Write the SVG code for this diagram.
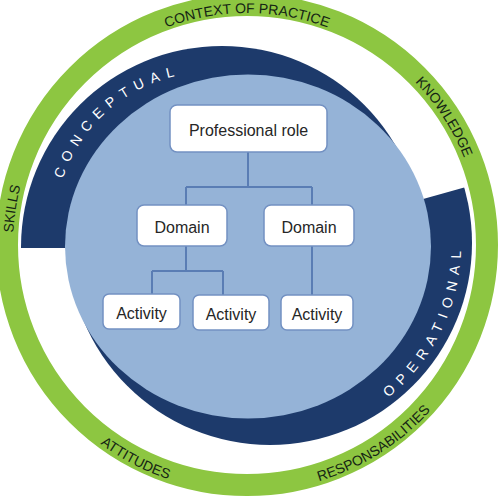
<svg xmlns="http://www.w3.org/2000/svg" width="499" height="499" viewBox="0 0 499 499">
<style>
.ring{font-family:"Liberation Sans",Arial,sans-serif;font-size:14px;fill:#142414}
.band{font-family:"Liberation Sans",Arial,sans-serif;font-size:14px;fill:#ffffff;letter-spacing:7px}
.box{fill:#ffffff;stroke:#7391c2;stroke-width:1.5}
.lbl{font-family:"Liberation Sans",Arial,sans-serif;font-size:16px;fill:#262626;text-anchor:middle}
.con{fill:none;stroke:#5a7db4;stroke-width:2}
</style>
<defs>
<clipPath id="c1"><rect x="-10" y="-10" width="520" height="258"/></clipPath>
<clipPath id="c2"><polygon points="-10,320.2 510,174.6 510,510 -10,510"/></clipPath>
<path id="pContext" d="M46.1,129 A232,232 0 0 1 447.9,129"/>
<path id="pKnow" d="M234.8,11.3 A234,234 0 0 1 455.5,351.2"/>
<path id="pSkills" d="M100.4,427.4 A234,234 0 0 1 162.4,26.8"/>
<path id="pAtt" d="M0.2,255.8 A247,247 0 0 0 379.7,453.3"/>
<path id="pResp" d="M133,464.1 A247,247 0 0 0 493.8,234.2"/>
<path id="pConc" d="M58,258.6 A156,156 0 0 1 261,80.2"/>
<path id="pOper" d="M280.7,440.4 A196,196 0 0 0 426.3,133.7"/>
</defs>
<rect width="499" height="499" fill="#ffffff"/>
<g id="ring">
<circle cx="247" cy="245" r="240" fill="none" stroke="#8dc641" stroke-width="22"/>
<text class="ring" text-anchor="middle"><textPath href="#pContext" startOffset="50%">CONTEXT OF PRACTICE</textPath></text>
<text class="ring" text-anchor="middle"><textPath href="#pKnow" startOffset="50%">KNOWLEDGE</textPath></text>
<text class="ring" text-anchor="middle"><textPath href="#pSkills" startOffset="50%">SKILLS</textPath></text>
<text class="ring" text-anchor="middle"><textPath href="#pAtt" startOffset="50%">ATTITUDES</textPath></text>
<text class="ring" text-anchor="middle"><textPath href="#pResp" startOffset="50%">RESPONSABILITIES</textPath></text>
</g>
<g id="bands">
<circle cx="222" cy="247" r="201" fill="#1d3a6b" clip-path="url(#c1)"/>
<circle cx="270" cy="243" r="202" fill="#1d3a6b" clip-path="url(#c2)"/>
<ellipse cx="248" cy="246.5" rx="183" ry="172" fill="#95b3d7"/>
<text class="band" text-anchor="middle"><textPath href="#pConc" startOffset="50%">CONCEPTUAL</textPath></text>
<text class="band" text-anchor="middle"><textPath href="#pOper" startOffset="50%">OPERATIONAL</textPath></text>
</g>
<g id="connectors">
<path class="con" d="M248,152 V187 M186,187 H312 M186,187 V205 M312,187 V205"/>
<path class="con" d="M186,246 V271 M152,271 H223 M152,271 V294 M223,271 V295"/>
<path class="con" d="M312,246 V295"/>
</g>
<g id="node-role"><rect class="box" x="170" y="105" width="157" height="47" rx="7"/><text class="lbl" x="248.5" y="136">Professional role</text></g>
<g id="node-domain1"><rect class="box" x="137" y="205" width="90" height="41" rx="7"/><text class="lbl" x="182" y="233">Domain</text></g>
<g id="node-domain2"><rect class="box" x="264" y="205" width="90" height="41" rx="7"/><text class="lbl" x="309" y="233">Domain</text></g>
<g id="node-activity1"><rect class="box" x="103" y="294" width="77" height="35" rx="6"/><text class="lbl" x="141.5" y="319">Activity</text></g>
<g id="node-activity2"><rect class="box" x="193" y="295" width="76" height="35" rx="6"/><text class="lbl" x="231" y="320">Activity</text></g>
<g id="node-activity3"><rect class="box" x="281" y="295" width="72" height="35" rx="6"/><text class="lbl" x="317" y="320">Activity</text></g>
</svg>
